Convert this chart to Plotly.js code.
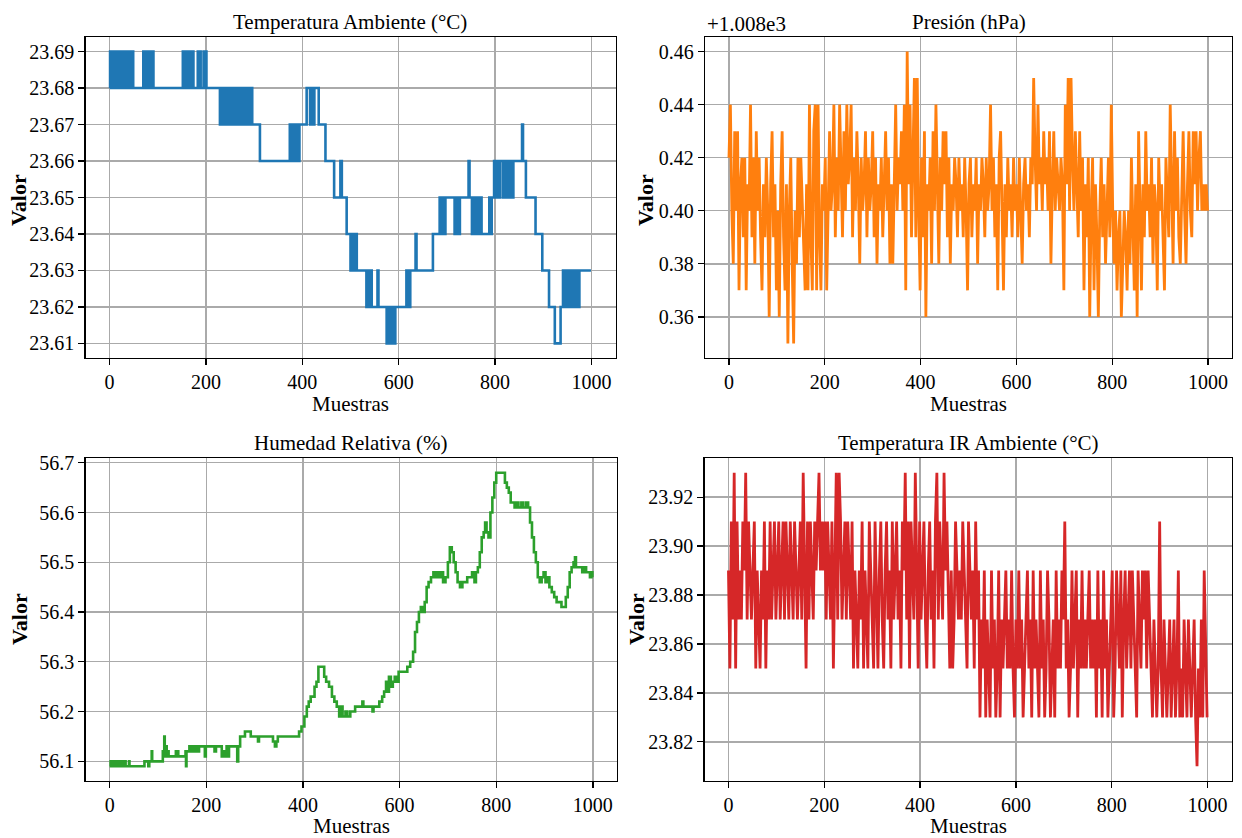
<!DOCTYPE html>
<html>
<head>
<meta charset="utf-8">
<script src="https://cdn.plot.ly/plotly-3.0.1.min.js"></script>
<style>
  html, body { margin: 0; padding: 0; background: #fff; }
  #chart { width: 1242px; height: 838px; }
</style>
</head>
<body>
<div id="chart"></div>
<script>
// ---------------- DATA ----------------
// Temperatura Ambiente: change points (sample index, value)
const tempAmbX = [0,1,3,4,6,7,9,11,12,14,16,17,19,24,25,29,30,33,34,38,40,43,44,48,49,
  70,72,74,77,79,82,84,87,88,91,152,154,156,158,160,163,165,168,170,174,183,184,188,189,195,196,200,201,
  229,231,233,235,237,239,241,243,245,247,249,251,253,255,257,259,261,263,265,268,270,274,275,278,279,284,285,289,290,295,296,
  312,374,376,378,380,382,384,386,388,390,393,394,409,416,418,423,425,434,
  448,466,479,482,492,500,502,504,506,508,510,513,533,535,538,540,544,556,558,
  575,577,579,582,584,588,590,593,616,618,620,622,624,635,637,
  671,685,687,689,691,693,695,697,716,718,721,723,725,727,745,747,
  752,754,756,758,760,762,764,766,768,770,772,775,788,791,793,
  798,801,803,808,810,816,818,823,825,829,831,836,838,856,858,864,884,898,912,924,936,
  941,943,945,947,949,952,954,958,960,964,966,970,972,975,999];
const tempAmbY = [23.68,23.69,23.68,23.69,23.68,23.69,23.68,23.69,23.68,23.69,23.68,23.69,23.68,23.69,23.68,23.69,23.68,23.69,23.68,23.69,23.68,23.69,23.68,23.69,23.68,
  23.69,23.68,23.69,23.68,23.69,23.68,23.69,23.68,23.69,23.68,23.69,23.68,23.69,23.68,23.69,23.68,23.69,23.68,23.69,23.68,23.69,23.68,23.69,23.68,23.69,23.68,23.69,23.68,
  23.67,23.68,23.67,23.68,23.67,23.68,23.67,23.68,23.67,23.68,23.67,23.68,23.67,23.68,23.67,23.68,23.67,23.68,23.67,23.68,23.67,23.68,23.67,23.68,23.67,23.68,23.67,23.68,23.67,23.68,23.67,
  23.66,23.67,23.66,23.67,23.66,23.67,23.66,23.67,23.66,23.67,23.66,23.67,23.68,23.67,23.68,23.67,23.68,23.67,
  23.66,23.65,23.66,23.65,23.64,23.63,23.64,23.63,23.64,23.63,23.64,23.63,23.62,23.63,23.62,23.63,23.62,23.63,23.62,
  23.61,23.62,23.61,23.62,23.61,23.62,23.61,23.62,23.63,23.62,23.63,23.62,23.63,23.64,23.63,
  23.64,23.65,23.64,23.65,23.64,23.65,23.64,23.65,23.64,23.65,23.64,23.65,23.64,23.65,23.66,23.65,
  23.64,23.65,23.64,23.65,23.64,23.65,23.64,23.65,23.64,23.65,23.64,23.64,23.65,23.64,23.65,
  23.66,23.65,23.66,23.65,23.66,23.65,23.66,23.65,23.66,23.65,23.66,23.65,23.66,23.67,23.66,23.65,23.64,23.63,23.62,23.61,23.62,
  23.63,23.62,23.63,23.62,23.63,23.62,23.63,23.62,23.63,23.62,23.63,23.62,23.62,23.63,23.63];

// Presión (hPa), one reading every 3 samples
const presion = [
  1008.42,1008.44,1008.40,1008.38,1008.43,1008.40,1008.43,1008.37,1008.41,1008.42,
  1008.39,1008.42,1008.37,1008.41,1008.40,1008.44,1008.39,1008.42,1008.38,1008.43,
  1008.40,1008.42,1008.39,1008.37,1008.41,1008.39,1008.42,1008.40,1008.36,1008.41,
  1008.43,1008.39,1008.41,1008.37,1008.40,1008.36,1008.41,1008.43,1008.39,1008.37,
  1008.41,1008.35,1008.40,1008.42,1008.38,1008.35,1008.40,1008.38,1008.42,1008.39,
  1008.42,1008.40,1008.39,1008.37,1008.41,1008.37,1008.44,1008.39,1008.37,1008.43,
  1008.44,1008.37,1008.44,1008.39,1008.37,1008.41,1008.40,1008.42,1008.37,1008.41,
  1008.43,1008.40,1008.41,1008.44,1008.39,1008.42,1008.40,1008.44,1008.41,1008.39,
  1008.43,1008.40,1008.44,1008.41,1008.42,1008.44,1008.39,1008.42,1008.40,1008.43,
  1008.41,1008.38,1008.42,1008.40,1008.41,1008.43,1008.39,1008.42,1008.40,1008.41,
  1008.43,1008.39,1008.42,1008.38,1008.41,1008.40,1008.42,1008.39,1008.41,1008.43,
  1008.40,1008.42,1008.38,1008.41,1008.38,1008.42,1008.44,1008.40,1008.42,1008.41,
  1008.43,1008.40,1008.44,1008.37,1008.46,1008.41,1008.44,1008.39,1008.42,1008.45,
  1008.39,1008.45,1008.40,1008.37,1008.42,1008.39,1008.43,1008.36,1008.41,1008.40,
  1008.42,1008.38,1008.43,1008.40,1008.44,1008.41,1008.38,1008.42,1008.40,1008.43,
  1008.41,1008.43,1008.39,1008.42,1008.38,1008.41,1008.40,1008.42,1008.41,1008.39,
  1008.42,1008.40,1008.41,1008.39,1008.42,1008.40,1008.37,1008.41,1008.42,1008.39,
  1008.41,1008.40,1008.42,1008.38,1008.41,1008.40,1008.42,1008.41,1008.39,1008.42,
  1008.40,1008.41,1008.44,1008.40,1008.42,1008.39,1008.41,1008.37,1008.42,1008.43,
  1008.40,1008.37,1008.41,1008.39,1008.42,1008.40,1008.41,1008.39,1008.42,1008.40,
  1008.41,1008.39,1008.42,1008.40,1008.38,1008.41,1008.42,1008.40,1008.41,1008.39,
  1008.42,1008.41,1008.45,1008.42,1008.40,1008.44,1008.41,1008.42,1008.40,1008.43,
  1008.41,1008.42,1008.40,1008.43,1008.38,1008.41,1008.43,1008.40,1008.42,1008.41,
  1008.40,1008.42,1008.41,1008.37,1008.44,1008.41,1008.45,1008.40,1008.45,1008.42,
  1008.40,1008.43,1008.41,1008.39,1008.43,1008.40,1008.42,1008.37,1008.41,1008.39,
  1008.42,1008.36,1008.40,1008.42,1008.37,1008.41,1008.39,1008.36,1008.40,1008.42,
  1008.39,1008.41,1008.38,1008.40,1008.42,1008.39,1008.44,1008.40,1008.38,1008.40,
  1008.37,1008.39,1008.40,1008.36,1008.38,1008.40,1008.39,1008.37,1008.40,1008.38,
  1008.42,1008.39,1008.37,1008.41,1008.36,1008.43,1008.40,1008.37,1008.41,1008.39,
  1008.43,1008.40,1008.41,1008.39,1008.42,1008.38,1008.41,1008.40,1008.37,1008.42,
  1008.40,1008.41,1008.39,1008.37,1008.42,1008.40,1008.39,1008.44,1008.41,1008.38,
  1008.43,1008.40,1008.42,1008.39,1008.38,1008.41,1008.43,1008.40,1008.38,1008.41,
  1008.43,1008.40,1008.39,1008.43,1008.41,1008.43,1008.40,1008.42,1008.43,1008.40,1008.41,1008.40,1008.41,1008.40];

// Humedad Relativa (%): (sample index, value)
const humedadX = [0,2,4,6,8,10,12,15,17,20,22,26,27,32,33,40,41,70,72,78,80,82,86,87,88,108,110,112,113,114,116,118,120,122,135,137,140,142,155,157,158,159,165,168,172,175,178,180,185,195,197,199,215,217,220,230,232,236,238,242,244,247,262,264,266,270,280,288,292,305,307,309,335,338,342,345,348,388,392,397,403,408,412,416,420,424,428,432,440,444,448,454,460,465,470,475,480,482,488,492,498,508,520,523,525,542,544,546,552,558,564,568,572,575,578,582,586,590,594,598,604,612,616,622,628,632,636,640,644,648,652,656,660,665,670,674,678,682,686,690,695,700,704,708,712,716,720,725,730,736,740,746,750,755,758,762,766,770,774,777,780,784,788,792,796,800,812,818,822,826,830,834,838,842,846,852,856,862,866,870,874,878,882,886,890,894,898,902,906,910,915,920,925,930,935,940,944,948,952,956,960,963,965,970,975,978,982,986,990,994,997,999];
const humedadY = [56.09,56.10,56.09,56.10,56.09,56.10,56.09,56.10,56.09,56.10,56.09,56.10,56.09,56.10,56.09,56.10,56.09,56.09,56.10,56.10,56.09,56.10,56.10,56.12,56.10,56.10,56.12,56.11,56.15,56.11,56.13,56.11,56.12,56.11,56.11,56.12,56.12,56.11,56.11,56.12,56.09,56.12,56.13,56.12,56.13,56.12,56.13,56.12,56.13,56.13,56.11,56.13,56.13,56.12,56.13,56.13,56.11,56.12,56.11,56.13,56.11,56.13,56.13,56.10,56.13,56.15,56.16,56.16,56.15,56.15,56.14,56.15,56.15,56.14,56.13,56.14,56.15,56.15,56.16,56.17,56.19,56.21,56.22,56.23,56.23,56.25,56.26,56.29,56.29,56.27,56.26,56.25,56.23,56.22,56.21,56.19,56.21,56.19,56.20,56.19,56.20,56.21,56.21,56.22,56.21,56.21,56.20,56.21,56.21,56.22,56.23,56.24,56.26,56.24,56.27,56.25,56.26,56.27,56.26,56.28,56.28,56.28,56.29,56.30,56.32,56.36,56.38,56.40,56.41,56.40,56.42,56.45,56.46,56.47,56.48,56.47,56.48,56.47,56.48,56.46,56.47,56.50,56.53,56.52,56.50,56.48,56.46,56.45,56.46,56.46,56.47,56.47,56.48,56.46,56.48,56.49,56.52,56.55,56.56,56.58,56.56,56.55,56.60,56.63,56.66,56.68,56.68,56.66,56.65,56.64,56.62,56.62,56.61,56.62,56.61,56.62,56.61,56.62,56.61,56.58,56.55,56.52,56.50,56.47,56.46,56.47,56.48,56.46,56.47,56.45,56.44,56.43,56.42,56.42,56.41,56.41,56.43,56.45,56.48,56.49,56.50,56.51,56.49,56.49,56.49,56.48,56.49,56.48,56.48,56.47,56.48,56.47];

// Temperatura IR Ambiente (°C), one reading every 3 samples
const tempIR = [
  23.89,23.85,23.91,23.87,23.93,23.85,23.91,23.87,23.89,23.87,
  23.91,23.89,23.93,23.87,23.91,23.89,23.87,23.89,23.91,23.85,
  23.89,23.87,23.85,23.89,23.87,23.91,23.85,23.89,23.87,23.91,
  23.87,23.89,23.91,23.87,23.89,23.91,23.87,23.89,23.91,23.87,
  23.91,23.89,23.87,23.91,23.89,23.87,23.91,23.89,23.87,23.89,
  23.91,23.87,23.93,23.89,23.85,23.91,23.87,23.91,23.89,23.87,
  23.91,23.89,23.91,23.93,23.89,23.91,23.89,23.91,23.87,23.91,
  23.89,23.87,23.91,23.85,23.89,23.93,23.87,23.93,23.91,23.87,
  23.89,23.91,23.87,23.91,23.89,23.87,23.91,23.85,23.89,23.87,
  23.85,23.89,23.87,23.91,23.85,23.89,23.87,23.85,23.91,23.89,
  23.87,23.85,23.91,23.87,23.85,23.89,23.91,23.87,23.85,23.89,
  23.91,23.87,23.89,23.85,23.91,23.87,23.89,23.91,23.87,23.89,
  23.85,23.91,23.89,23.93,23.87,23.91,23.85,23.91,23.89,23.87,
  23.93,23.89,23.85,23.91,23.87,23.89,23.91,23.87,23.85,23.89,
  23.91,23.87,23.89,23.85,23.91,23.93,23.87,23.91,23.89,23.87,
  23.93,23.89,23.91,23.87,23.85,23.89,23.85,23.87,23.91,23.89,
  23.87,23.89,23.87,23.91,23.89,23.87,23.85,23.91,23.89,23.87,
  23.89,23.85,23.91,23.87,23.89,23.83,23.87,23.85,23.89,23.83,
  23.87,23.85,23.83,23.89,23.85,23.87,23.83,23.85,23.89,23.83,
  23.87,23.85,23.87,23.89,23.85,23.87,23.85,23.89,23.85,23.83,
  23.87,23.85,23.89,23.85,23.87,23.83,23.85,23.87,23.89,23.85,
  23.87,23.83,23.89,23.85,23.87,23.85,23.83,23.89,23.85,23.87,
  23.83,23.85,23.89,23.87,23.83,23.85,23.87,23.83,23.89,23.85,
  23.87,23.85,23.89,23.87,23.91,23.85,23.87,23.83,23.85,23.89,
  23.85,23.87,23.89,23.83,23.87,23.85,23.89,23.85,23.87,23.85,
  23.87,23.89,23.85,23.87,23.85,23.87,23.83,23.89,23.85,23.87,
  23.83,23.89,23.85,23.87,23.83,23.85,23.87,23.89,23.83,23.85,
  23.89,23.87,23.85,23.89,23.83,23.87,23.89,23.85,23.87,23.89,
  23.85,23.89,23.87,23.85,23.83,23.89,23.87,23.85,23.89,23.87,
  23.89,23.85,23.89,23.87,23.85,23.83,23.87,23.85,23.83,23.85,
  23.91,23.85,23.83,23.87,23.85,23.83,23.85,23.87,23.83,23.85,
  23.87,23.83,23.85,23.89,23.83,23.85,23.83,23.87,23.85,23.83,
  23.87,23.85,23.83,23.85,23.87,23.83,23.81,23.85,23.83,23.87,23.83,23.89,23.85,23.83];

// sample indices for the series recorded every 3 samples
const PASO = 3;
const muestrasPresion = presion.map((_, i) => i * PASO);
const muestrasIR = tempIR.map((_, i) => i * PASO);

const titulos = ['Temperatura Ambiente (°C)', 'Presión (hPa)', 'Humedad Relativa (%)', 'Temperatura IR Ambiente (°C)'];
const xTicks = [0, 200, 400, 600, 800, 1000];
const presionTickVals = [1008.36, 1008.38, 1008.40, 1008.42, 1008.44, 1008.46];
const presionTickText = ['0.36', '0.38', '0.40', '0.42', '0.44', '0.46'];
const presionOffsetText = '+1.008e3';

// ---------------- PLOT ----------------
const W = 1242, H = 838;
const FONT = 'Liberation Serif, Times New Roman, serif';
const FS_TICK = 20, FS_TXT = 21;
const px = v => v / W;
const py = v => 1 - v / H;

const traces = [
  { x: tempAmbX, y: tempAmbY, xaxis: 'x', yaxis: 'y', type: 'scatter', mode: 'lines',
    line: { color: '#1f77b4', width: 2.6, shape: 'hv' } },
  { x: muestrasPresion, y: presion, xaxis: 'x2', yaxis: 'y2', type: 'scatter', mode: 'lines',
    line: { color: '#ff7f0e', width: 2.8 } },
  { x: humedadX, y: humedadY, xaxis: 'x3', yaxis: 'y3', type: 'scatter', mode: 'lines',
    line: { color: '#2ca02c', width: 2.6, shape: 'hv' } },
  { x: muestrasIR, y: tempIR, xaxis: 'x4', yaxis: 'y4', type: 'scatter', mode: 'lines',
    line: { color: '#d62728', width: 2.8 } }
];

const tickFont = { family: FONT, size: FS_TICK, color: '#000' };
const base = {
  showline: true, mirror: true, linecolor: '#000', linewidth: 1.3,
  ticks: 'outside', ticklen: 6, tickwidth: 1.3, tickcolor: '#000',
  showgrid: true, gridcolor: '#aaaaaa', gridwidth: 1.4, zeroline: false,
  tickfont: tickFont, automargin: false
};
const xa = (dom, anchor) => Object.assign({}, base, {
  domain: dom, anchor: anchor, range: [-50, 1049.95], tickvals: xTicks
});
const ya = (dom, anchor, extra) => Object.assign({}, base, { domain: dom, anchor: anchor }, extra);

const topY = [py(358), py(37)];
const botY = [py(781), py(458)];

const layout = {
  width: W, height: H,
  margin: { l: 0, r: 0, t: 0, b: 0 },
  paper_bgcolor: '#fff', plot_bgcolor: '#fff',
  showlegend: false,
  xaxis:  xa([px(85.5), px(615.5)], 'y'),
  yaxis:  ya(topY, 'x', { range: [23.606, 23.694], dtick: 0.01, tick0: 23.61, tickformat: '.2f' }),
  xaxis2: xa([px(705), px(1232)], 'y2'),
  yaxis2: ya(topY, 'x2', { range: [1008.3445, 1008.4655], tickvals: presionTickVals, ticktext: presionTickText }),
  xaxis3: xa([px(85.5), px(617)], 'y3'),
  yaxis3: ya(botY, 'x3', { range: [56.0605, 56.7095], dtick: 0.1, tick0: 56.1, tickformat: '.1f' }),
  xaxis4: xa([px(704.5), px(1231.5)], 'y4'),
  yaxis4: ya(botY, 'x4', { range: [23.804, 23.936], dtick: 0.02, tick0: 23.82, tickformat: '.2f' }),
  annotations: []
};

const ann = (text, x, y, opts) => Object.assign({
  text: text, x: x, y: y, xref: 'paper', yref: 'paper', showarrow: false,
  xanchor: 'center', yanchor: 'middle', font: { family: FONT, size: FS_TXT, color: '#000' }
}, opts || {});

const centersX = [350.5, 968.5, 351.3, 968];
const titleY = [22, 22, 443, 443];
const muestrasY = [404, 404, 826, 826];
const valorX = [19, 646, 19, 636];
const valorY = [200, 200, 619, 619];
for (let i = 0; i < 4; i++) {
  layout.annotations.push(ann(titulos[i], px(centersX[i]), py(titleY[i])));
  layout.annotations.push(ann('Muestras', px(centersX[i]), py(muestrasY[i])));
  layout.annotations.push(ann('Valor', px(valorX[i]), py(valorY[i]),
    { textangle: -90, font: { family: FONT, size: 22, color: '#000', weight: 'bold' } }));
}
layout.annotations.push(ann(presionOffsetText, px(705), py(24), { xanchor: 'left' }));

Plotly.newPlot('chart', traces, layout, { displayModeBar: false, staticPlot: true });
</script>
</body>
</html>
